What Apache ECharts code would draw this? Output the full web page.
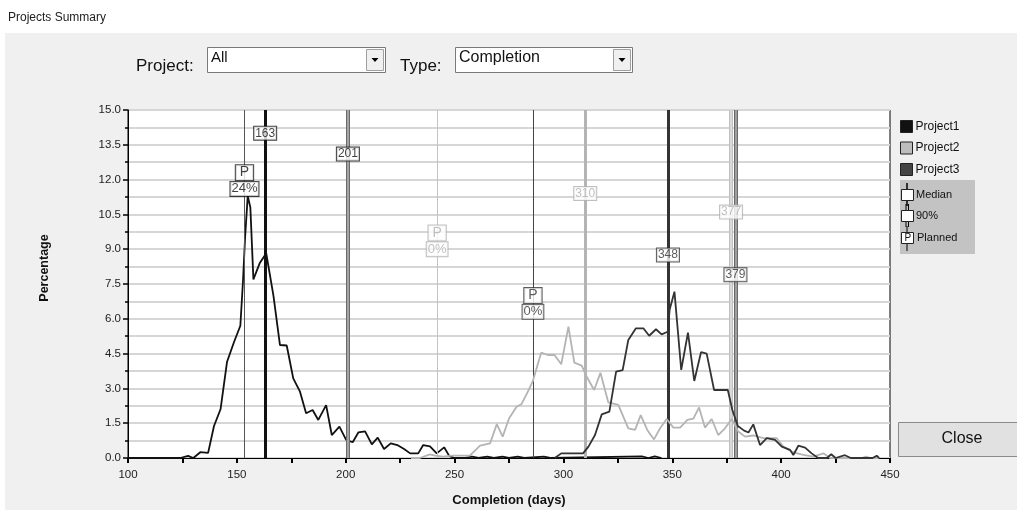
<!DOCTYPE html>
<html>
<head>
<meta charset="utf-8">
<script src="https://cdn.jsdelivr.net/npm/echarts@6/dist/echarts.min.js"></script>
<style>
html,body{margin:0;padding:0;background:#fff;}
#chart{width:1017px;height:510px;}
</style>
</head>
<body>
<div id="chart"></div>
<script>
// ---- data ----
const seriesNames = ['Project1', 'Project2', 'Project3'];
const project1 = [[100,0],[124,0],[127.6,0.09],[130,0],[133.2,0.25],[136.8,0.22],[139.5,1.38],[142.5,2.1],[145.5,4.15],[148.7,5.0],[151.6,5.7],[152.8,7.6],[153.8,9.54],[155,11.3],[156.2,10.8],[157.6,7.7],[160.6,8.42],[163.5,8.82],[166.8,7.0],[169.8,4.87],[172.9,4.85],[175.9,3.43],[179,2.86],[181.8,1.93],[184.8,2.07],[187.4,1.64],[191,2.28],[193.6,0.99],[197.1,1.35],[200.2,0.78],[203.2,0.68],[205.8,1.1],[208.9,1.15],[212,0.59],[214.7,0.88],[217.6,0.39],[220.7,0.63],[223.7,0.56],[226.8,0.39],[229.6,0.2],[233.3,0.2],[235.6,0.56],[238.7,0.5],[241.8,0.2],[245.2,0.46],[247.6,0.08],[250,0],[255,0],[258,0.06],[261,0],[265,0.06],[268,0],[272,0.06],[275,0],[279,0.06],[282,0],[291,0.06],[294,0],[336,0.07],[339,0],[342,0.07],[345,0]];
const project2 = [[230,0],[234,0],[238.7,0.16],[241,0.1],[244.8,0.06],[249,0.1],[257,0.1],[261.7,0.53],[266.3,0.63],[269.4,1.46],[272.1,0.92],[275,1.7],[278.5,2.21],[280.8,2.33],[283.6,2.85],[285.9,3.3],[287.9,3.94],[289.8,4.54],[292.8,4.44],[295.9,4.44],[299,4.04],[302.3,5.66],[305,4.11],[308.4,3.98],[310.7,3.5],[314.1,2.93],[317,3.67],[320.6,2.4],[325.2,2.29],[329.8,1.28],[332.9,1.21],[335.5,1.85],[338.5,1.21],[341.6,0.8],[344.4,1.28],[347.4,1.68],[350.5,1.31],[353.6,1.31],[356.9,1.64],[359.7,1.7],[362.3,2.18],[365,1.31],[368.1,1.68],[371.1,0.99],[374.2,1.28],[377.3,1.68],[380.3,1.14],[383.4,0.92],[387.2,0.97],[391.8,0.86],[397.9,0.86],[401,0.49],[405.6,0.24],[410.2,0.13],[414.8,0.06],[419.4,0.2],[422.5,0],[437,0],[439,0.06],[441,0],[445,0]];
const project3 = [[296,0],[299,0.2],[309,0.2],[311.5,0.49],[314.5,0.99],[317.6,1.88],[321.1,2.0],[324.2,3.72],[327.2,3.79],[329.8,5.09],[333.3,5.59],[336.7,5.59],[339.4,5.27],[342.5,5.55],[345.1,5.33],[347.9,5.44],[348.8,6.4],[351,7.17],[354.1,3.8],[357.2,5.4],[360.1,3.32],[363.2,4.56],[365.8,4.5],[369.2,2.93],[375.5,2.93],[377.6,2.07],[380.1,1.38],[383,1.18],[385,1.1],[387.2,1.45],[390.3,0.56],[393.4,0.86],[397.2,0.78],[400.3,0.49],[404.1,0.35],[405.6,0.13],[407.9,0.53],[411,0.45],[414,0.2],[417,0],[421,0],[423,0.16],[425,0],[429.3,0.12],[432,0],[442,0],[443.9,0.1],[445,0]];
const plannedDays = [153.5, 242, 286];
const plannedPct = ['24%', '0%', '0%'];
const medianDays = [163, 310, 348];
const p90Days = [201, 377, 379];
const plannedLabelY = [12.3, 9.7, 7.0];
const pctLabelY = [11.6, 9.0, 6.3];
const medianLabelY = [14.0, 11.4, 8.75];
const p90LabelY = [13.1, 10.6, 7.9];
const yTicks = ['0.0','1.5','3.0','4.5','6.0','7.5','9.0','10.5','12.0','13.5','15.0'];

// ---- styles ----
const lineColors = ['#111111', '#b4b4b4', '#333333'];
const legendColors = ['#111111', '#bdbdbd', '#444444'];
const labelColors = ['#111111', '#b0b0b0', '#333333'];
const plannedLineColors = ['#555555', '#c4c4c4', '#444444'];
const p90Outer = ['#6a6a6a', '#c0c0c0', '#6a6a6a'];
const p90Inner = ['#b8b8b8', '#e2e2e2', '#b0b0b0'];
const FONT = '"Liberation Sans", Arial, sans-serif';
const datasets = [project1, project2, project3];

const series = [];
datasets.forEach((d, i) => {
  series.push({
    name: seriesNames[i], type: 'line', data: d, symbol: 'none',
    lineStyle: {color: lineColors[i], width: 1.8}, itemStyle: {color: lineColors[i]},
    z: 4 + i,
    animation: false,
    markLine: {
      silent: true, symbol: 'none', animation: false,
      label: {show: false},
      data: [
        {xAxis: plannedDays[i], lineStyle: {color: plannedLineColors[i], width: 1, type: 'solid'}},
        {xAxis: medianDays[i], lineStyle: {color: lineColors[i], width: 3, type: 'solid'}},
        {xAxis: p90Days[i], lineStyle: {color: p90Outer[i], width: 4, type: 'solid'}},
        {xAxis: p90Days[i], lineStyle: {color: p90Inner[i], width: 1.5, type: 'solid'}}
      ]
    }
  });
});

function boxLabel(i, fs, pad) {
  return {
    show: true, position: 'inside', color: labelColors[i], fontSize: fs, fontFamily: FONT,
    backgroundColor: '#ffffff', borderColor: labelColors[i], borderWidth: 1,
    padding: pad, lineHeight: fs + 1,
    formatter: p => p.data.t
  };
}
datasets.forEach((d, i) => {
  series.push({
    type: 'scatter', symbolSize: 0, silent: true, animation: false, z: 20,
    data: [
      {value: [medianDays[i], medianLabelY[i]], t: String(medianDays[i]), label: boxLabel(i, 12, [0, 1])},
      {value: [p90Days[i], p90LabelY[i]], t: String(p90Days[i]), label: boxLabel(i, 12, [0, 1])},
      {value: [plannedDays[i], plannedLabelY[i]], t: 'P', label: boxLabel(i, 14, [0, 4])},
      {value: [plannedDays[i], pctLabelY[i]], t: plannedPct[i], label: boxLabel(i, 13, [0, 1])}
    ]
  });
});

const chart = echarts.init(document.getElementById('chart'), null, {renderer: 'canvas'});
const graphic = [
  {type: 'rect', z: -100, shape: {x: 5, y: 33, width: 1012, height: 477}, style: {fill: '#f0f0f0'}},
  {type: 'text', z: 10, x: 8, y: 12, style: {text: 'Projects Summary', font: '12px ' + FONT, fill: '#222'}},
  // project combobox
  {type: 'text', z: 10, x: 136, y: 66, style: {text: 'Project:', font: '17px ' + FONT, fill: '#111', verticalAlign: 'middle'}},
  {type: 'rect', z: 10, shape: {x: 207.5, y: 47.5, width: 178, height: 25}, style: {fill: '#fff', stroke: '#7a7a7a', lineWidth: 1}},
  {type: 'text', z: 11, x: 211, y: 58, style: {text: 'All', font: '15px ' + FONT, fill: '#111', verticalAlign: 'middle'}},
  {type: 'rect', z: 11, shape: {x: 366.5, y: 49.5, width: 17, height: 21}, style: {fill: '#f0f0f0', stroke: '#a0a0a0', lineWidth: 1}},
  {type: 'polygon', z: 12, shape: {points: [[371.5, 58], [378.5, 58], [375, 62]]}, style: {fill: '#000'}},
  // type combobox
  {type: 'text', z: 10, x: 400, y: 66, style: {text: 'Type:', font: '17px ' + FONT, fill: '#111', verticalAlign: 'middle'}},
  {type: 'rect', z: 10, shape: {x: 455.5, y: 47.5, width: 177, height: 25}, style: {fill: '#fff', stroke: '#7a7a7a', lineWidth: 1}},
  {type: 'text', z: 11, x: 459, y: 58, style: {text: 'Completion', font: '16px ' + FONT, fill: '#111', verticalAlign: 'middle'}},
  {type: 'rect', z: 11, shape: {x: 613.5, y: 49.5, width: 17, height: 21}, style: {fill: '#f0f0f0', stroke: '#a0a0a0', lineWidth: 1}},
  {type: 'polygon', z: 12, shape: {points: [[618.5, 58], [625.5, 58], [622, 62]]}, style: {fill: '#000'}},
  // y axis title
  {type: 'text', z: 10, x: 45, y: 268, rotation: Math.PI / 2, style: {text: 'Percentage', font: 'bold 12.5px ' + FONT, fill: '#111', align: 'center', verticalAlign: 'middle'}},
  // legend key box
  {type: 'rect', z: 10, shape: {x: 900, y: 180, width: 75, height: 74}, style: {fill: '#c3c3c3'}},
  {type: 'line', z: 11, shape: {x1: 907, y1: 183, x2: 907, y2: 206}, style: {stroke: '#000', lineWidth: 1.5}},
  {type: 'rect', z: 12, shape: {x: 901.5, y: 189.5, width: 12, height: 11}, style: {fill: '#fff', stroke: '#222', lineWidth: 1}},
  {type: 'text', z: 12, x: 916, y: 189, style: {text: 'Median', font: '11px ' + FONT, fill: '#111'}},
  {type: 'line', z: 11, shape: {x1: 906, y1: 204, x2: 906, y2: 227}, style: {stroke: '#000', lineWidth: 1}},
  {type: 'line', z: 11, shape: {x1: 908.5, y1: 204, x2: 908.5, y2: 227}, style: {stroke: '#000', lineWidth: 1}},
  {type: 'rect', z: 12, shape: {x: 901.5, y: 210.5, width: 12, height: 11}, style: {fill: '#fff', stroke: '#222', lineWidth: 1}},
  {type: 'text', z: 12, x: 916, y: 210, style: {text: '90%', font: '11px ' + FONT, fill: '#111'}},
  {type: 'line', z: 11, shape: {x1: 907, y1: 226, x2: 907, y2: 251}, style: {stroke: '#000', lineWidth: 1}},
  {type: 'rect', z: 12, shape: {x: 901.5, y: 232.5, width: 12, height: 11}, style: {fill: '#fff', stroke: '#222', lineWidth: 1}},
  {type: 'text', z: 13, x: 904.5, y: 233, style: {text: 'P', font: '10px ' + FONT, fill: '#111'}},
  {type: 'text', z: 12, x: 917, y: 232, style: {text: 'Planned', font: '11px ' + FONT, fill: '#111'}},
  // close button
  {type: 'rect', z: 10, shape: {x: 898.5, y: 422.5, width: 125, height: 34}, style: {fill: '#e1e1e1', stroke: '#8a8a8a', lineWidth: 1}},
  {type: 'text', z: 11, x: 962, y: 439, style: {text: 'Close', font: '16px ' + FONT, fill: '#111', align: 'center', verticalAlign: 'middle'}}
];

chart.setOption({
  animation: false,
  backgroundColor: 'transparent',
  textStyle: {fontFamily: FONT},
  graphic: graphic,
  grid: {left: 128, right: 127, top: 110, bottom: 52, outerBoundsMode: 'none', containLabel: false,
    show: true, backgroundColor: '#ffffff', borderColor: '#000', borderWidth: 1},
  legend: {
    data: seriesNames.map((n, i) => ({name: n, icon: 'rect', itemStyle: {color: legendColors[i], borderColor: '#222', borderWidth: 1}})),
    orient: 'vertical', left: 900, top: 120, itemWidth: 12, itemHeight: 12, itemGap: 8.5, padding: 0,
    textStyle: {fontSize: 12, color: '#111', fontFamily: FONT, padding: [0, 0, 0, -2]},
    selectedMode: false
  },
  xAxis: {
    type: 'value', min: 100, max: 450, interval: 50,
    name: 'Completion (days)', nameLocation: 'middle', nameGap: 36,
    nameTextStyle: {fontSize: 13, fontWeight: 'bold', color: '#111', fontFamily: FONT},
    axisLine: {show: true, lineStyle: {color: '#000', width: 1}},
    axisTick: {show: true, inside: false, length: 5, lineStyle: {color: '#000', width: 2}},
    minorTick: {show: true, splitNumber: 2, length: 5, lineStyle: {color: '#000', width: 2}},
    axisLabel: {fontSize: 11.5, color: '#222', margin: 11, fontFamily: FONT},
    splitLine: {show: false}
  },
  yAxis: {
    type: 'value', min: 0, max: 15, interval: 1.5,
    axisLine: {show: true, lineStyle: {color: '#000', width: 1}},
    axisTick: {show: true, length: 5, lineStyle: {color: '#000', width: 1.5}},
    minorTick: {show: true, splitNumber: 2, length: 3, lineStyle: {color: '#000', width: 1.5}},
    axisLabel: {fontSize: 11.5, color: '#222', margin: 7, fontFamily: FONT,
      formatter: v => yTicks[Math.round(v / 1.5)] ?? v.toFixed(1)},
    splitLine: {show: true, lineStyle: {color: '#d6d6d6', width: 2}},
    minorSplitLine: {show: true, lineStyle: {color: '#d6d6d6', width: 2}}
  },
  series: series
});
</script>
</body>
</html>
